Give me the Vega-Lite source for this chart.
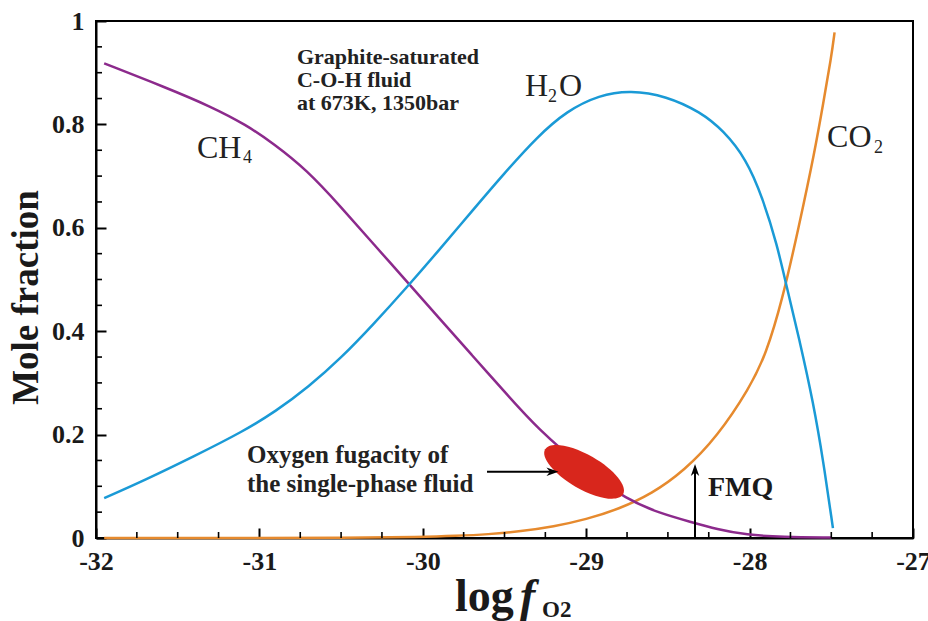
{
  "$schema": "https://vega.github.io/schema/vega-lite/v6.json",
  "width": 817,
  "height": 517,
  "autosize": {"type": "none"},
  "padding": {"left": 96, "top": 21, "right": 15, "bottom": 83},
  "background": "white",
  "config": {
    "view": {"stroke": "black", "strokeWidth": 2},
    "axis": {
      "grid": false,
      "domainColor": "black",
      "domainWidth": 2,
      "tickColor": "black",
      "tickWidth": 2,
      "labelFont": "Liberation Serif",
      "labelFontWeight": "bold",
      "labelFontSize": 26,
      "labelColor": "#1a1a1a",
      "titleFont": "Liberation Serif",
      "titleFontWeight": "bold",
      "titleColor": "#1a1a1a"
    }
  },
  "resolve": {"axis": {"x": "independent", "y": "independent"}},
  "layer": [
    {
      "data": {
        "values": [
          {"species": "CO2", "x": -31.95, "y": 0},
          {"species": "CO2", "x": -31.0, "y": 0},
          {"species": "CO2", "x": -30.5, "y": 0},
          {"species": "CO2", "x": -30.0, "y": 0.002},
          {"species": "CO2", "x": -29.8, "y": 0.004},
          {"species": "CO2", "x": -29.6, "y": 0.007},
          {"species": "CO2", "x": -29.4, "y": 0.013},
          {"species": "CO2", "x": -29.2, "y": 0.022},
          {"species": "CO2", "x": -29.0, "y": 0.036},
          {"species": "CO2", "x": -28.8, "y": 0.056},
          {"species": "CO2", "x": -28.6, "y": 0.085},
          {"species": "CO2", "x": -28.4, "y": 0.13},
          {"species": "CO2", "x": -28.2, "y": 0.195},
          {"species": "CO2", "x": -28.0, "y": 0.29},
          {"species": "CO2", "x": -27.9, "y": 0.355},
          {"species": "CO2", "x": -27.8, "y": 0.46},
          {"species": "CO2", "x": -27.7, "y": 0.6},
          {"species": "CO2", "x": -27.6, "y": 0.75},
          {"species": "CO2", "x": -27.55, "y": 0.84},
          {"species": "CO2", "x": -27.5, "y": 0.93},
          {"species": "CO2", "x": -27.48, "y": 0.978},
          {"species": "CH4", "x": -31.95, "y": 0.918},
          {"species": "CH4", "x": -31.57, "y": 0.871},
          {"species": "CH4", "x": -31.3, "y": 0.835},
          {"species": "CH4", "x": -31.08, "y": 0.799},
          {"species": "CH4", "x": -30.915, "y": 0.763},
          {"species": "CH4", "x": -30.71, "y": 0.712},
          {"species": "CH4", "x": -30.5, "y": 0.64},
          {"species": "CH4", "x": -30.3, "y": 0.568},
          {"species": "CH4", "x": -30.1, "y": 0.497},
          {"species": "CH4", "x": -29.9, "y": 0.425},
          {"species": "CH4", "x": -29.7, "y": 0.354},
          {"species": "CH4", "x": -29.5, "y": 0.283},
          {"species": "CH4", "x": -29.3, "y": 0.212},
          {"species": "CH4", "x": -29.0, "y": 0.13},
          {"species": "CH4", "x": -28.75, "y": 0.074},
          {"species": "CH4", "x": -28.55, "y": 0.048},
          {"species": "CH4", "x": -28.36, "y": 0.031},
          {"species": "CH4", "x": -28.2, "y": 0.017},
          {"species": "CH4", "x": -28.02, "y": 0.006},
          {"species": "CH4", "x": -27.8, "y": 0.002},
          {"species": "CH4", "x": -27.5, "y": 0.001},
          {"species": "H2O", "x": -31.95, "y": 0.077},
          {"species": "H2O", "x": -31.7, "y": 0.112},
          {"species": "H2O", "x": -31.4, "y": 0.158},
          {"species": "H2O", "x": -31.1, "y": 0.206},
          {"species": "H2O", "x": -30.9, "y": 0.245},
          {"species": "H2O", "x": -30.7, "y": 0.292},
          {"species": "H2O", "x": -30.5, "y": 0.348},
          {"species": "H2O", "x": -30.3, "y": 0.414},
          {"species": "H2O", "x": -30.1, "y": 0.484},
          {"species": "H2O", "x": -29.9, "y": 0.557},
          {"species": "H2O", "x": -29.7, "y": 0.632},
          {"species": "H2O", "x": -29.5, "y": 0.706},
          {"species": "H2O", "x": -29.3, "y": 0.776},
          {"species": "H2O", "x": -29.12, "y": 0.826},
          {"species": "H2O", "x": -28.92, "y": 0.857},
          {"species": "H2O", "x": -28.73, "y": 0.866},
          {"species": "H2O", "x": -28.51, "y": 0.855},
          {"species": "H2O", "x": -28.3, "y": 0.824},
          {"species": "H2O", "x": -28.16, "y": 0.788},
          {"species": "H2O", "x": -28.02, "y": 0.733},
          {"species": "H2O", "x": -27.92, "y": 0.658},
          {"species": "H2O", "x": -27.83, "y": 0.565},
          {"species": "H2O", "x": -27.78, "y": 0.495},
          {"species": "H2O", "x": -27.69, "y": 0.377},
          {"species": "H2O", "x": -27.61, "y": 0.261},
          {"species": "H2O", "x": -27.55, "y": 0.151},
          {"species": "H2O", "x": -27.49, "y": 0.019}
        ]
      },
      "mark": {"type": "line", "interpolate": "basis", "strokeWidth": 2.5},
      "encoding": {
        "x": {
          "field": "x",
          "type": "quantitative",
          "scale": {"domain": [-32, -27], "nice": false, "zero": false},
          "axis": {
            "orient": "bottom",
            "title": null,
            "values": [-32, -31, -30, -29, -28, -27],
            "labelExpr": "datum.value + ''",
            "ticks": false,
            "tickSize": 0,
            "labelPadding": 10,
            "labelFlush": false,
            "labelOverlap": false
          }
        },
        "y": {
          "field": "y",
          "type": "quantitative",
          "scale": {"domain": [0, 1], "nice": false, "zero": false},
          "axis": {
            "orient": "left",
            "title": "Mole fraction",
            "titleFontSize": 37,
            "titleY": 276,
            "titlePadding": 6,
            "values": [0, 0.2, 0.4, 0.6, 0.8, 1],
            "labelExpr": "datum.value + ''",
            "ticks": false,
            "tickSize": 0,
            "labelPadding": 12,
            "labelFlush": false,
            "labelOverlap": false
          }
        },
        "color": {
          "field": "species",
          "type": "nominal",
          "scale": {"domain": ["CO2", "CH4", "H2O"], "range": ["#E68A2E", "#8C2A8C", "#1A9AD6"]},
          "legend": null
        }
      }
    },
    {
      "data": {"values": [{"x": -29.013, "y": 0.128}]},
      "mark": {"type": "point", "shape": "M -1 0 A 1 0.38 0 1 0 1 0 A 1 0.38 0 1 0 -1 0 Z", "size": 8100, "angle": 30, "filled": true, "fill": "#D8261C", "opacity": 1, "strokeWidth": 0},
      "encoding": {
        "x": {
          "field": "x",
          "type": "quantitative",
          "axis": {
            "orient": "bottom",
            "title": null,
            "values": [-32, -31, -30, -29, -28, -27],
            "tickCount": 100,
            "labels": false,
            "domain": false,
            "offset": -10,
            "tickSize": 10,
            "tickWidth": 2
          }
        },
        "y": {
          "field": "y",
          "type": "quantitative",
          "axis": {
            "orient": "left",
            "title": null,
            "values": [0, 0.2, 0.4, 0.6, 0.8, 1],
            "tickCount": 100,
            "labels": false,
            "domain": false,
            "offset": -10,
            "tickSize": 10,
            "tickWidth": 2
          }
        }
      }
    },
    {
      "data": {
        "values": [
          {"v": -31.75}, {"v": -31.5}, {"v": -31.25}, {"v": -30.75}, {"v": -30.5}, {"v": -30.25},
          {"v": -29.75}, {"v": -29.5}, {"v": -29.25}, {"v": -28.75}, {"v": -28.5}, {"v": -28.25},
          {"v": -27.75}, {"v": -27.5}, {"v": -27.25}
        ]
      },
      "mark": {"type": "rule", "strokeWidth": 1.6, "color": "black"},
      "encoding": {
        "x": {"field": "v", "type": "quantitative", "axis": null},
        "y": {"datum": 0, "type": "quantitative", "axis": null},
        "y2": {"datum": 0.0116}
      }
    },
    {
      "data": {
        "values": [
          {"v": 0.05}, {"v": 0.1}, {"v": 0.15}, {"v": 0.25}, {"v": 0.3}, {"v": 0.35},
          {"v": 0.45}, {"v": 0.5}, {"v": 0.55}, {"v": 0.65}, {"v": 0.7}, {"v": 0.75},
          {"v": 0.85}, {"v": 0.9}, {"v": 0.95}
        ]
      },
      "mark": {"type": "rule", "strokeWidth": 1.6, "color": "black"},
      "encoding": {
        "y": {"field": "v", "type": "quantitative", "axis": null},
        "x": {"datum": -32, "type": "quantitative", "axis": null},
        "x2": {"datum": -31.9633}
      }
    },
    {
      "data": {
        "values": [
          {"x": -29.607, "x2": -29.19, "y": 0.128, "y2": 0.128},
          {"x": -28.334, "x2": -28.334, "y": 0, "y2": 0.132}
        ]
      },
      "mark": {"type": "rule", "strokeWidth": 2, "color": "black"},
      "encoding": {
        "x": {"field": "x", "type": "quantitative", "axis": null},
        "x2": {"field": "x2"},
        "y": {"field": "y", "type": "quantitative", "axis": null},
        "y2": {"field": "y2"}
      }
    },
    {
      "data": {"values": [{"x": -29.17, "y": 0.128}]},
      "mark": {"type": "point", "shape": "M 0 0 L -2 -0.7 L -1.4 0 L -2 0.7 Z", "size": 144, "filled": true, "fill": "black", "opacity": 1, "strokeWidth": 0, "angle": 0},
      "encoding": {
        "x": {"field": "x", "type": "quantitative", "axis": null},
        "y": {"field": "y", "type": "quantitative", "axis": null}
      }
    },
    {
      "data": {"values": [{"x": -28.334, "y": 0.143}]},
      "mark": {"type": "point", "shape": "M 0 0 L -2 -0.7 L -1.4 0 L -2 0.7 Z", "size": 144, "filled": true, "fill": "black", "opacity": 1, "strokeWidth": 0, "angle": -90},
      "encoding": {
        "x": {"field": "x", "type": "quantitative", "axis": null},
        "y": {"field": "y", "type": "quantitative", "axis": null}
      }
    },
    {
      "data": {
        "values": [
          {"t": "CH", "x": -31.382, "y": 0.735},
          {"t": "H", "x": -29.375, "y": 0.855},
          {"t": "O", "x": -29.166, "y": 0.855},
          {"t": "CO", "x": -27.526, "y": 0.756}
        ]
      },
      "mark": {"type": "text", "align": "left", "baseline": "alphabetic", "font": "Liberation Serif", "fontSize": 32, "color": "#222222"},
      "encoding": {
        "x": {"field": "x", "type": "quantitative", "axis": null},
        "y": {"field": "y", "type": "quantitative", "axis": null},
        "text": {"field": "t"}
      }
    },
    {
      "data": {
        "values": [
          {"t": "4", "x": -31.1, "y": 0.725},
          {"t": "2", "x": -29.234, "y": 0.843},
          {"t": "2", "x": -27.239, "y": 0.745}
        ]
      },
      "mark": {"type": "text", "align": "left", "baseline": "alphabetic", "font": "Liberation Serif", "fontSize": 18, "color": "#222222"},
      "encoding": {
        "x": {"field": "x", "type": "quantitative", "axis": null},
        "y": {"field": "y", "type": "quantitative", "axis": null},
        "text": {"field": "t"}
      }
    },
    {
      "data": {
        "values": [
          {"t": "Graphite-saturated", "x": -30.77, "y": 0.917},
          {"t": "C-O-H fluid", "x": -30.77, "y": 0.872},
          {"t": "at 673K, 1350bar", "x": -30.77, "y": 0.828}
        ]
      },
      "mark": {"type": "text", "align": "left", "baseline": "alphabetic", "font": "Liberation Serif", "fontWeight": "bold", "fontSize": 22, "color": "#222222"},
      "encoding": {
        "x": {"field": "x", "type": "quantitative", "axis": null},
        "y": {"field": "y", "type": "quantitative", "axis": null},
        "text": {"field": "t"}
      }
    },
    {
      "data": {
        "values": [
          {"t": "Oxygen fugacity of", "x": -31.076, "y": 0.145},
          {"t": "the single-phase fluid", "x": -31.076, "y": 0.089}
        ]
      },
      "mark": {"type": "text", "align": "left", "baseline": "alphabetic", "font": "Liberation Serif", "fontWeight": "bold", "fontSize": 25, "color": "#222222"},
      "encoding": {
        "x": {"field": "x", "type": "quantitative", "axis": null},
        "y": {"field": "y", "type": "quantitative", "axis": null},
        "text": {"field": "t"}
      }
    },
    {
      "data": {"values": [{"t": "FMQ", "x": -28.255, "y": 0.081}]},
      "mark": {"type": "text", "align": "left", "baseline": "alphabetic", "font": "Liberation Serif", "fontWeight": "bold", "fontSize": 28, "color": "#1a1a1a"},
      "encoding": {
        "x": {"field": "x", "type": "quantitative", "axis": null},
        "y": {"field": "y", "type": "quantitative", "axis": null},
        "text": {"field": "t"}
      }
    },
    {
      "data": {"values": [{"t": "log", "x": -29.803, "y": -0.1406}]},
      "mark": {"type": "text", "align": "left", "baseline": "alphabetic", "font": "Liberation Serif", "fontWeight": "bold", "fontSize": 46, "color": "#1a1a1a"},
      "encoding": {
        "x": {"field": "x", "type": "quantitative", "axis": null},
        "y": {"field": "y", "type": "quantitative", "axis": null},
        "text": {"field": "t"}
      }
    },
    {
      "data": {"values": [{"t": "f", "x": -29.405, "y": -0.1406}]},
      "mark": {"type": "text", "align": "left", "baseline": "alphabetic", "font": "Liberation Serif", "fontWeight": "bold", "fontStyle": "italic", "fontSize": 46, "color": "#1a1a1a"},
      "encoding": {
        "x": {"field": "x", "type": "quantitative", "axis": null},
        "y": {"field": "y", "type": "quantitative", "axis": null},
        "text": {"field": "t"}
      }
    },
    {
      "data": {"values": [{"t": "O2", "x": -29.27, "y": -0.152}]},
      "mark": {"type": "text", "align": "left", "baseline": "alphabetic", "font": "Liberation Serif", "fontWeight": "bold", "fontSize": 23, "color": "#1a1a1a"},
      "encoding": {
        "x": {"field": "x", "type": "quantitative", "axis": null},
        "y": {"field": "y", "type": "quantitative", "axis": null},
        "text": {"field": "t"}
      }
    }
  ]
}
